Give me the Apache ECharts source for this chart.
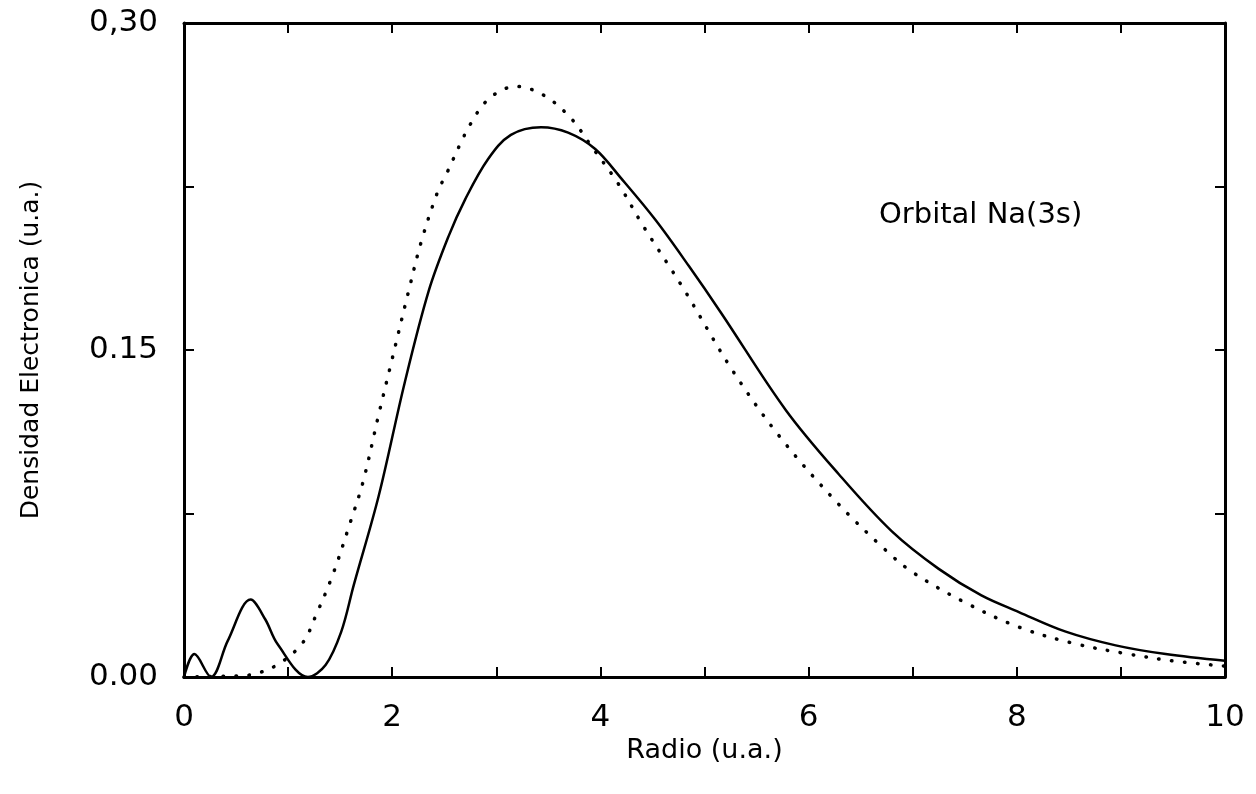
<!DOCTYPE html>
<html>
<head>
<meta charset="utf-8">
<script src="https://cdn.jsdelivr.net/npm/echarts@6/dist/echarts.min.js"></script>
<style>html,body{margin:0;padding:0;background:#fff;}#chart{width:1256px;height:794px;}</style>
</head>
<body>
<div id="chart"></div>
<script>
// Solid curve: radio (u.a.) and densidad
const solidR = [0, 0.1, 0.26, 0.42, 0.64, 0.78, 0.9, 1.19, 1.36, 1.51, 1.63, 1.87, 2.12, 2.35, 2.54, 2.7, 2.92, 3.14, 3.43, 3.69, 3.95, 4.2, 4.53, 4.85, 5.16, 5.78, 6.29, 6.8, 7.25, 7.66, 8.02, 8.47, 8.95, 9.43, 10];
const solidD = [0, 0.0105, 0, 0.0166, 0.0355, 0.0265, 0.015, 0, 0.0055, 0.0207, 0.042, 0.083, 0.135, 0.177, 0.202, 0.219, 0.2375, 0.2487, 0.2522, 0.2497, 0.2422, 0.2287, 0.2096, 0.1885, 0.167, 0.1225, 0.093, 0.0668, 0.0496, 0.0374, 0.0298, 0.0208, 0.0145, 0.0105, 0.0074];
// Dotted curve
const dottedR = [0, 0.5, 0.64, 0.9, 1.14, 1.27, 1.43, 1.6, 1.72, 1.87, 1.99, 2.15, 2.28, 2.44, 2.51, 2.75, 2.94, 3.19, 3.45, 3.71, 3.91, 4.17, 4.41, 4.8, 5.26, 5.71, 6.26, 6.74, 7.0, 7.51, 8.02, 8.53, 9.05, 9.53, 10];
const dottedD = [0, 0.0005, 0.001, 0.0057, 0.0157, 0.0286, 0.047, 0.0713, 0.0895, 0.1203, 0.144, 0.1755, 0.1998, 0.223, 0.2297, 0.2535, 0.2657, 0.2709, 0.267, 0.2567, 0.2437, 0.2264, 0.207, 0.178, 0.1413, 0.111, 0.0807, 0.0582, 0.048, 0.034, 0.0229, 0.0156, 0.0107, 0.0072, 0.005];
// Tick labels
const xTickLabels = {0: '0', 2: '2', 4: '4', 6: '6', 8: '8', 10: '10'};
const yTickLabels = {0: '0.00', 0.15: '0.15', 0.3: '0,30'};
const xName = 'Radio (u.a.)';
const yName = 'Densidad Electronica (u.a.)';
const annotation = 'Orbital Na(3s)';

const FONT = 'DejaVu Sans';
const solid = solidR.map((r, i) => [r, solidD[i]]);
const dotted = dottedR.map((r, i) => [r, dottedD[i]]);

function yLab(v) {
  for (const k in yTickLabels) { if (Math.abs(v - parseFloat(k)) < 1e-6) return yTickLabels[k]; }
  return '';
}
function xLab(v) {
  const k = Math.round(v);
  return (Math.abs(v - k) < 1e-6 && xTickLabels[k] !== undefined) ? xTickLabels[k] : '';
}

const chart = echarts.init(document.getElementById('chart'), null, {renderer: 'canvas'});
const axisLine = {show: true, onZero: false, lineStyle: {color: '#000', width: 3}};
const tick = {show: true, inside: true, length: 10, lineStyle: {color: '#000', width: 2}};
chart.setOption({
  backgroundColor: '#fff',
  animation: false,
  grid: {left: 184, right: 31, top: 23, bottom: 117, containLabel: false},
  xAxis: [{
    type: 'value', min: 0, max: 10, interval: 1, position: 'bottom',
    axisLine: axisLine, axisTick: tick,
    axisLabel: {formatter: xLab, color: '#000', fontFamily: FONT, fontSize: 31, margin: 25},
    splitLine: {show: false},
    name: xName, nameLocation: 'middle', nameGap: 58,
    nameTextStyle: {color: '#000', fontFamily: FONT, fontSize: 27}
  }, {
    type: 'value', min: 0, max: 10, interval: 1, position: 'top',
    axisLine: axisLine, axisTick: tick,
    axisLabel: {show: false}, splitLine: {show: false}
  }],
  yAxis: [{
    type: 'value', min: 0, max: 0.3, interval: 0.075, position: 'left',
    axisLine: axisLine, axisTick: tick,
    axisLabel: {formatter: yLab, color: '#000', fontFamily: FONT, fontSize: 31, margin: 26},
    splitLine: {show: false},
    name: yName, nameLocation: 'middle', nameGap: 140, nameRotate: 90,
    nameTextStyle: {color: '#000', fontFamily: FONT, fontSize: 25}
  }, {
    type: 'value', min: 0, max: 0.3, interval: 0.075, position: 'right',
    axisLine: axisLine, axisTick: tick,
    axisLabel: {show: false}, splitLine: {show: false}
  }],
  graphic: [{
    type: 'text', left: 879, top: 201,
    style: {text: annotation, fill: '#000', font: '29px "' + FONT + '"'}
  }],
  series: [{
    type: 'line', name: 'solid', data: solid, xAxisIndex: 0, yAxisIndex: 0,
    showSymbol: false, smooth: 0.35,
    lineStyle: {color: '#000', width: 2.5}
  }, {
    type: 'line', name: 'dotted', data: dotted, xAxisIndex: 0, yAxisIndex: 0,
    showSymbol: false, smooth: 0.35,
    lineStyle: {color: '#000', width: 3.5, type: [0.5, 12.5], cap: 'round'}
  }]
});
</script>
</body>
</html>
